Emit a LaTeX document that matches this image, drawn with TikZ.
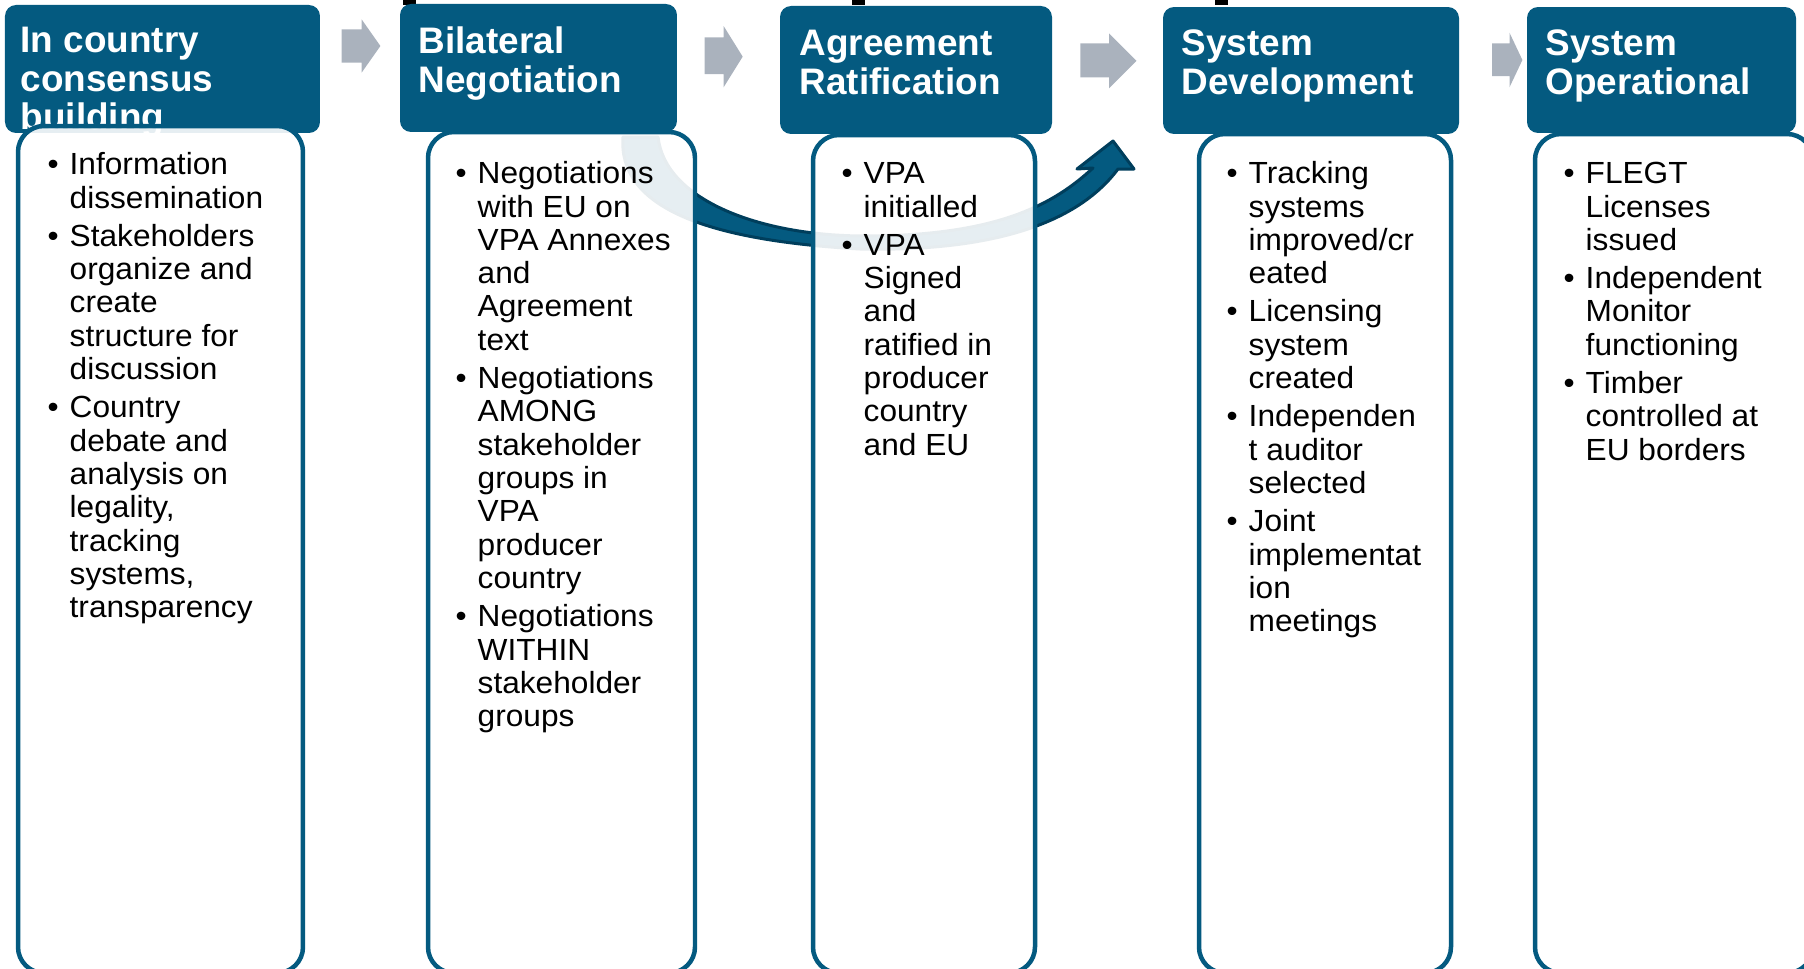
\documentclass[tikz,border=0pt]{standalone}
\usepackage{fontspec}
\setmainfont{Liberation Sans}
\newfontfamily\bodyfont[FakeStretch=1.035]{Liberation Sans}
\definecolor{vpateal}{RGB}{4,90,128}
\definecolor{vpadark}{RGB}{0,62,92}
\definecolor{vpagrey}{RGB}{170,178,189}
\newcommand{\bitem}{\makebox[2.4mm][l]{\hspace{0.2mm}\textbullet}}
\newcommand{\bcont}{\hspace*{2.4mm}}
\newcommand{\tophead}{\rule{0pt}{3mm}}
\newcommand{\topbody}{\rule{0pt}{2.6mm}}

\begin{document}
\begin{tikzpicture}[x=0.1mm,y=-0.1mm,
		headbox/.style={fill=vpateal,rounded corners=1.1mm,inner sep=0pt,outer sep=0pt,anchor=north west},
		bodybox/.style={draw=vpateal,line width=0.45mm,fill=white,fill opacity=0.9,rounded corners=2.6mm,inner sep=0pt,outer sep=0pt,anchor=north west},
		headtext/.style={text=white,font=\bfseries\fontsize{10.5}{10.9}\selectfont,align=left,inner sep=0pt,anchor=north west},
		bodytext/.style={text=black,font=\bodyfont\fontsize{8.7}{9.48}\selectfont,align=left,inner sep=0pt,anchor=north west},
		stagearrow/.style={fill=vpagrey},
		bigarrow/.style={fill=vpateal,draw=vpadark,line width=0.3mm,line join=round}]
		\useasboundingbox (0,0) rectangle (1804,969);
		\clip (0,0) rectangle (1804,969);
		%curved arrow behind the boxes
		\filldraw[bigarrow] (623,137) .. controls (618,205) and (700,240) .. (860,249)
			.. controls (1000,252) and (1080,220) .. (1118,169)
			-- (1134,169) -- (1113,141) -- (1077,169) -- (1093,168)
			.. controls (1055,203) and (1000,236) .. (865,236)
			.. controls (760,236) and (665,200) .. (658,137) -- cycle;
		%bits of the title above
		\foreach \x in {403,852,1215}{
			\fill (\x,0) rectangle (\x+13,5);
		}
		%grey arrows between the stages
		\foreach \xa/\xb/\xc/\ya/\yb/\yc/\yd in {341.5/361.6/380.4/19.3/72.7/29.3/62.7,
			704.5/723.6/742.7/26/87.3/37.3/74, 1080.3/1109/1136.5/33.3/88.3/43.3/77.3,
			1492/1509.5/1522.4/32.7/87.3/43.3/76}{
			\fill[stagearrow] (\xa,\yc) -- (\xb,\yc) -- (\xb,\ya) -- (\xc,{(\ya+\yb)/2})
				-- (\xb,\yb) -- (\xb,\yd) -- (\xa,\yd) -- cycle;
		}
		%put the headers
		\foreach \n/\x/\y/\w/\h in {1/5/5/31.5/12.8, 2/400/4/27.7/12.8, 3/780/6/27.2/12.8,
			4/1163/7/29.6/12.7, 5/1527/7/26.9/12.6}{
			\node[headbox,minimum width=\w mm,minimum height=\h mm] (h\n) at (\x,\y) {};
		}
		\node[headtext] (ht1) at ([shift={(15,17)}]h1.north west) {\tophead In country\\consensus\\building};
		\node[headtext] (ht2) at ([shift={(18,19)}]h2.north west) {\tophead Bilateral\\Negotiation};
		\node[headtext] (ht3) at ([shift={(19,19)}]h3.north west) {\tophead Agreement\\Ratification};
		\node[headtext] (ht4) at ([shift={(18,18)}]h4.north west) {\tophead System\\Development};
		\node[headtext] (ht5) at ([shift={(18,18)}]h5.north west) {\tophead System\\Operational};
		%put the boxes below
		\foreach \n/\x/\y/\w in {1/18/126/28.5, 2/428/132/26.7, 3/813/135/22.2,
			4/1199/134/25.2, 5/1535/134/27.8}{
			\node[bodybox,minimum width=\w mm,minimum height={(973-\y)/10*1mm}] (b\n) at (\x,\y) {};
		}
		\node[bodytext] (t1) at ([shift={(27,22)}]b1.north west) {\topbody\bitem Information\\
			\bcont dissemination\\[0.5mm]
			\bitem Stakeholders\\ \bcont organize and\\ \bcont create\\ \bcont structure for\\ \bcont discussion\\[0.5mm]
			\bitem Country\\ \bcont debate and\\ \bcont analysis on\\ \bcont legality,\\ \bcont tracking\\
			\bcont systems,\\ \bcont transparency};
		\node[bodytext] (t2) at ([shift={(25,25)}]b2.north west) {\topbody\bitem Negotiations\\
			\bcont with EU on\\ \bcont VPA Annexes\\ \bcont and\\ \bcont Agreement\\ \bcont text\\[0.5mm]
			\bitem Negotiations\\ \bcont AMONG\\ \bcont stakeholder\\ \bcont groups in\\ \bcont VPA\\
			\bcont producer\\ \bcont country\\[0.5mm]
			\bitem Negotiations\\ \bcont WITHIN\\ \bcont stakeholder\\ \bcont groups};
		\node[bodytext] (t3) at ([shift={(26,22)}]b3.north west) {\topbody\bitem VPA\\
			\bcont initialled\\[0.5mm]
			\bitem VPA\\ \bcont Signed\\ \bcont and\\ \bcont ratified in\\ \bcont producer\\ \bcont country\\
			\bcont and EU};
		\node[bodytext] (t4) at ([shift={(25,23)}]b4.north west) {\topbody\bitem Tracking\\
			\bcont systems\\ \bcont improved/cr\\ \bcont eated\\[0.5mm]
			\bitem Licensing\\ \bcont system\\ \bcont created\\[0.5mm]
			\bitem Independen\\ \bcont t auditor\\ \bcont selected\\[0.5mm]
			\bitem Joint\\ \bcont implementat\\ \bcont ion\\ \bcont meetings};
		\node[bodytext] (t5) at ([shift={(26,23)}]b5.north west) {\topbody\bitem FLEGT\\
			\bcont Licenses\\ \bcont issued\\[0.5mm]
			\bitem Independent\\ \bcont Monitor\\ \bcont functioning\\[0.5mm]
			\bitem Timber\\ \bcont controlled at\\ \bcont EU borders};
\end{tikzpicture}
\end{document}
